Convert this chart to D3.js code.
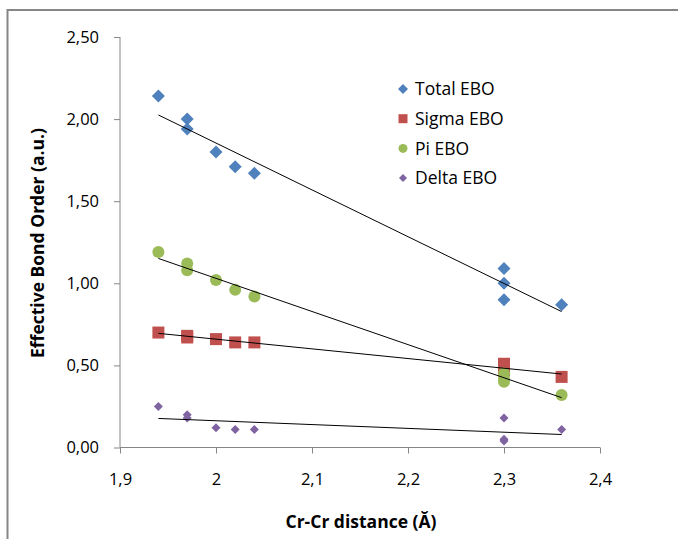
<!DOCTYPE html>
<html>
<head>
<meta charset="utf-8">
<script src="https://cdn.jsdelivr.net/npm/d3@7"></script>
<style>
  body { margin: 0; background: #fff; }
  svg { display: block; font-family: "Open Sans", "Liberation Sans", sans-serif; }
</style>
</head>
<body>
<div id="chart"></div>
<script>
const xTicks = [1.9, 2.0, 2.1, 2.2, 2.3, 2.4];
const yTicks = [0, 0.5, 1.0, 1.5, 2.0, 2.5];

const totalX = [1.94, 1.97, 1.97, 2.00, 2.02, 2.04, 2.30, 2.30, 2.30, 2.36];
const totalY = [2.14, 2.00, 1.94, 1.80, 1.71, 1.67, 1.09, 1.00, 0.90, 0.87];

const sigmaX = [1.94, 1.97, 1.97, 2.00, 2.02, 2.04, 2.30, 2.30, 2.30, 2.36];
const sigmaY = [0.70, 0.68, 0.67, 0.66, 0.64, 0.64, 0.51, 0.49, 0.47, 0.43];

const piX = [1.94, 1.97, 1.97, 2.00, 2.02, 2.04, 2.30, 2.30, 2.30, 2.36];
const piY = [1.19, 1.12, 1.08, 1.02, 0.96, 0.92, 0.45, 0.42, 0.40, 0.32];

const deltaX = [1.94, 1.97, 1.97, 2.00, 2.02, 2.04, 2.30, 2.30, 2.30, 2.36];
const deltaY = [0.25, 0.20, 0.18, 0.12, 0.11, 0.11, 0.18, 0.05, 0.04, 0.11];

const seriesNames = ['Total EBO', 'Sigma EBO', 'Pi EBO', 'Delta EBO'];

const series = [
  { name: seriesNames[0], xs: totalX, ys: totalY, color: '#4F81BD', shape: 'diamond', size: 6.5 },
  { name: seriesNames[1], xs: sigmaX, ys: sigmaY, color: '#C0504D', shape: 'square', size: 6 },
  { name: seriesNames[2], xs: piX, ys: piY, color: '#9BBB59', shape: 'circle', size: 6 },
  { name: seriesNames[3], xs: deltaX, ys: deltaY, color: '#8064A2', shape: 'diamond', size: 4.5 }
];

const W = 678, H = 539;
const svg = d3.select('#chart').append('svg').attr('width', W).attr('height', H);

// outer chart frame
svg.append('rect')
  .attr('x', 7.5).attr('y', 10)
  .attr('width', W + 10).attr('height', H + 10)
  .attr('fill', 'none').attr('stroke', '#868686').attr('stroke-width', 2);

const x = d3.scaleLinear().domain([1.9, 2.4]).range([120, 600]);
const y = d3.scaleLinear().domain([0, 2.5]).range([447.5, 37]);

const fmt = d => d3.format('.2f')(d).replace('.', ',');
const fmtX = d => String(+d.toFixed(1)).replace('.', ',');

// y axis
const yAxis = svg.append('g')
  .attr('transform', 'translate(120,0)')
  .call(d3.axisLeft(y).tickValues(yTicks).tickFormat(fmt).tickSize(6).tickPadding(15));
yAxis.selectAll('path, line').attr('stroke', '#868686');
yAxis.select('.domain').attr('d', `M0,${y(2.5)}V${y(0)}`);
yAxis.selectAll('text').attr('font-size', 16.5).attr('fill', '#000')
  .attr('font-family', '"Open Sans", sans-serif');

// x axis
const xAxis = svg.append('g')
  .attr('transform', `translate(0,${y(0)})`)
  .call(d3.axisBottom(x).tickValues(xTicks).tickFormat(fmtX).tickSize(6).tickPadding(20));
xAxis.selectAll('path, line').attr('stroke', '#868686');
xAxis.select('.domain').attr('d', `M${x(1.9)},0H${x(2.4)}`);
xAxis.selectAll('text').attr('font-size', 16.5).attr('fill', '#000')
  .attr('font-family', '"Open Sans", sans-serif');

// axis titles
svg.append('text')
  .attr('x', 361).attr('y', 528)
  .attr('text-anchor', 'middle')
  .attr('font-size', 17.5).attr('font-weight', 'bold')
  .text('Cr-Cr distance (Ă)');

svg.append('text')
  .attr('transform', 'translate(44,243) rotate(-90)')
  .attr('text-anchor', 'middle')
  .attr('font-size', 17.5).attr('font-weight', 'bold')
  .text('Effective Bond Order (a.u.)');

function drawMarker(g, shape, size, color) {
  if (shape === 'diamond') {
    g.append('path')
      .attr('d', `M0,${-size}L${size},0L0,${size}L${-size},0Z`)
      .attr('fill', color);
  } else if (shape === 'square') {
    g.append('rect')
      .attr('x', -size).attr('y', -size)
      .attr('width', size * 2).attr('height', size * 2)
      .attr('fill', color);
  } else {
    g.append('circle').attr('r', size).attr('fill', color);
  }
}

// points
series.forEach(s => {
  s.xs.forEach((xv, i) => {
    const g = svg.append('g').attr('transform', `translate(${x(xv)},${y(s.ys[i])})`);
    drawMarker(g, s.shape, s.size, s.color);
  });
});

// linear trendlines
series.forEach(s => {
  const mx = d3.mean(s.xs), my = d3.mean(s.ys);
  const sxy = d3.sum(s.xs, (xv, i) => (xv - mx) * (s.ys[i] - my));
  const sxx = d3.sum(s.xs, xv => (xv - mx) * (xv - mx));
  const b = sxy / sxx, a = my - b * mx;
  const x0 = d3.min(s.xs), x1 = d3.max(s.xs);
  svg.append('line')
    .attr('x1', x(x0)).attr('y1', y(a + b * x0))
    .attr('x2', x(x1)).attr('y2', y(a + b * x1))
    .attr('stroke', '#000').attr('stroke-width', 1);
});

// legend
const legend = svg.append('g').attr('transform', 'translate(403,89)');
series.forEach((s, i) => {
  const row = legend.append('g').attr('transform', `translate(0,${i * 29.7})`);
  const ls = s.shape === 'diamond' ? (i === 0 ? 5 : 4) : 4.5;
  drawMarker(row, s.shape, ls, s.color);
  row.append('text')
    .attr('x', 12).attr('y', 0).attr('dy', '0.35em')
    .attr('font-size', 17.5)
    .text(s.name);
});
</script>
</body>
</html>
